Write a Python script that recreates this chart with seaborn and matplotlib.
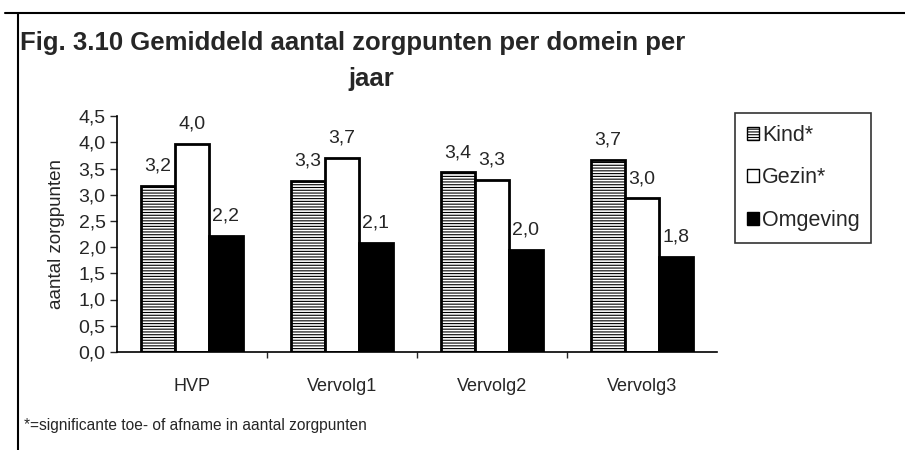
import pandas as pd
import matplotlib.pyplot as plt
import seaborn as sns
from matplotlib.lines import Line2D
from matplotlib.patches import Patch

# data
jaren = ['HVP', 'Vervolg1', 'Vervolg2', 'Vervolg3']
domeinen = ['Kind*', 'Gezin*', 'Omgeving']
kind = [3.17, 3.27, 3.43, 3.67]
gezin = [3.97, 3.70, 3.28, 2.93]
omgeving = [2.22, 2.08, 1.95, 1.82]
kind_lbl = ['3,2', '3,3', '3,4', '3,7']
gezin_lbl = ['4,0', '3,7', '3,3', '3,0']
omgeving_lbl = ['2,2', '2,1', '2,0', '1,8']
yticks = [0, 0.5, 1, 1.5, 2, 2.5, 3, 3.5, 4, 4.5]

df = pd.DataFrame({
    'jaar': jaren * 3,
    'domein': [d for d in domeinen for _ in jaren],
    'waarde': kind + gezin + omgeving,
})

sns.set_style('white')
plt.rcParams['font.family'] = ['Liberation Sans', 'DejaVu Sans']
plt.rcParams['hatch.linewidth'] = 0.8

fig = plt.figure(figsize=(9.05, 4.5), dpi=100)
ax = fig.add_axes([0.129, 0.218, 0.663, 0.524])

sns.barplot(data=df, x='jaar', y='waarde', hue='domein', order=jaren,
            hue_order=domeinen, palette=['white', 'white', 'black'],
            width=0.68, edgecolor='black', linewidth=2, legend=False, ax=ax)

for bar in ax.containers[0]:
    bar.set_hatch('------')

for cont, lbls in zip(ax.containers, [kind_lbl, gezin_lbl, omgeving_lbl]):
    ax.bar_label(cont, labels=lbls, padding=8, fontsize=14)

ax.set_ylim(0, 4.5)
ax.set_xlim(-0.5, 3.5)
ax.set_yticks(yticks)
ax.set_yticklabels([f'{v:.1f}'.replace('.', ',') for v in yticks], fontsize=14)
ax.set_xticks(range(len(jaren)))
ax.set_xticklabels(jaren, fontsize=13)
ax.set_xticks([0.5, 1.5, 2.5], minor=True)
ax.tick_params(axis='x', which='major', length=0, pad=19)
ax.tick_params(axis='x', which='minor', length=4, width=1, direction='out', bottom=True)
ax.tick_params(axis='y', length=5, width=1, direction='out', left=True, pad=3)
ax.set_xlabel('')
ax.set_ylabel('aantal zorgpunten', fontsize=13.5, labelpad=10)
for s in ['top', 'right']:
    ax.spines[s].set_visible(False)
for s in ['left', 'bottom']:
    ax.spines[s].set_color('black')
    ax.spines[s].set_linewidth(1.2)

handles = [Patch(facecolor='white', edgecolor='black', hatch='------'),
           Patch(facecolor='white', edgecolor='black'),
           Patch(facecolor='black', edgecolor='black')]
leg = fig.legend(handles, domeinen, loc='upper left', bbox_to_anchor=(0.812, 0.749),
                 fontsize=15.5, frameon=True, fancybox=False, handlelength=0.55,
                 handleheight=0.55, handletextpad=0.15, labelspacing=1.0,
                 borderpad=0.55, borderaxespad=0)
leg.get_frame().set_edgecolor('black')
leg.get_frame().set_linewidth(1.2)

fig.text(0.022, 0.905, 'Fig. 3.10 Gemiddeld aantal zorgpunten per domein per',
         fontsize=18.5, fontweight='bold', va='center')
fig.text(0.41, 0.825, 'jaar', fontsize=18.5, fontweight='bold', va='center', ha='center')
fig.text(0.027, 0.055, '*=significante toe- of afname in aantal zorgpunten',
         fontsize=11.2, va='center')

# outer frame
fig.add_artist(Line2D([0.005, 1.0], [0.971, 0.971], color='black', lw=1.5))
fig.add_artist(Line2D([0.02, 0.02], [0.0, 0.971], color='black', lw=1.5))

fig.savefig('out.png', dpi=100)
